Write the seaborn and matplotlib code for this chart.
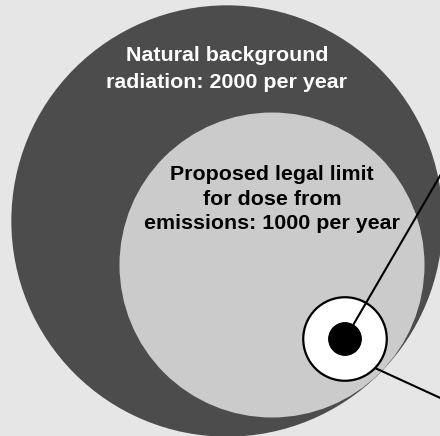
import seaborn as sns
import matplotlib.pyplot as plt
from matplotlib.patches import Circle
import numpy as np

# doses per year, circle area proportional to the dose
doses = [2000, 1000, 75, 12]
labels = ["Natural background\nradiation: 2000 per year",
          "Proposed legal limit\nfor dose from\nemissions: 1000 per year",
          "", ""]

sns.set_style("white")
plt.rcParams['font.family'] = ['Liberation Sans', 'DejaVu Sans']

bg = "#e6e6e6"
fig = plt.figure(figsize=(4.4, 4.36), dpi=100, facecolor=bg)
ax = fig.add_axes([0, 0, 1, 1])
ax.set_facecolor(bg)
ax.set_xlim(0, 440)
ax.set_ylim(436, 0)
ax.set_axis_off()

scale = 152.5 / np.sqrt(1000)
radii = [scale * np.sqrt(d) for d in doses]

centers = [(227, 221), (272, 265), (345, 339), (345, 339)]
faces = ["#4c4c4c", "#cbcbcb", "white", "black"]
edges = ["none", "none", "black", "black"]
lws = [0, 0, 1.6, 0]

for (cx, cy), r, fc, ec, lw in zip(centers, radii, faces, edges, lws):
    ax.add_patch(Circle((cx, cy), r, facecolor=fc, edgecolor=ec, lw=lw, zorder=2))

# leader lines to labels outside the frame
ax.plot([345, 345 + 95.5 * 1.3], [339, 339 - 164 * 1.3], color="black", lw=1.5,
        zorder=3, solid_capstyle="butt")
ax.plot([375, 460], [368, 407], color="black", lw=1.5, zorder=3,
        solid_capstyle="butt")
# redraw dot above its line
ax.add_patch(Circle(centers[3], radii[3], facecolor="black", edgecolor="none", zorder=4))

ax.text(227, 69, labels[0], color="white", fontsize=15.4, fontweight="bold",
        ha="center", va="center", linespacing=1.47, zorder=5)
ax.text(272, 199, labels[1], color="black", fontsize=15.4, fontweight="bold",
        ha="center", va="center", linespacing=1.39, zorder=5)

fig.savefig("out.png", dpi=100, facecolor=bg)
